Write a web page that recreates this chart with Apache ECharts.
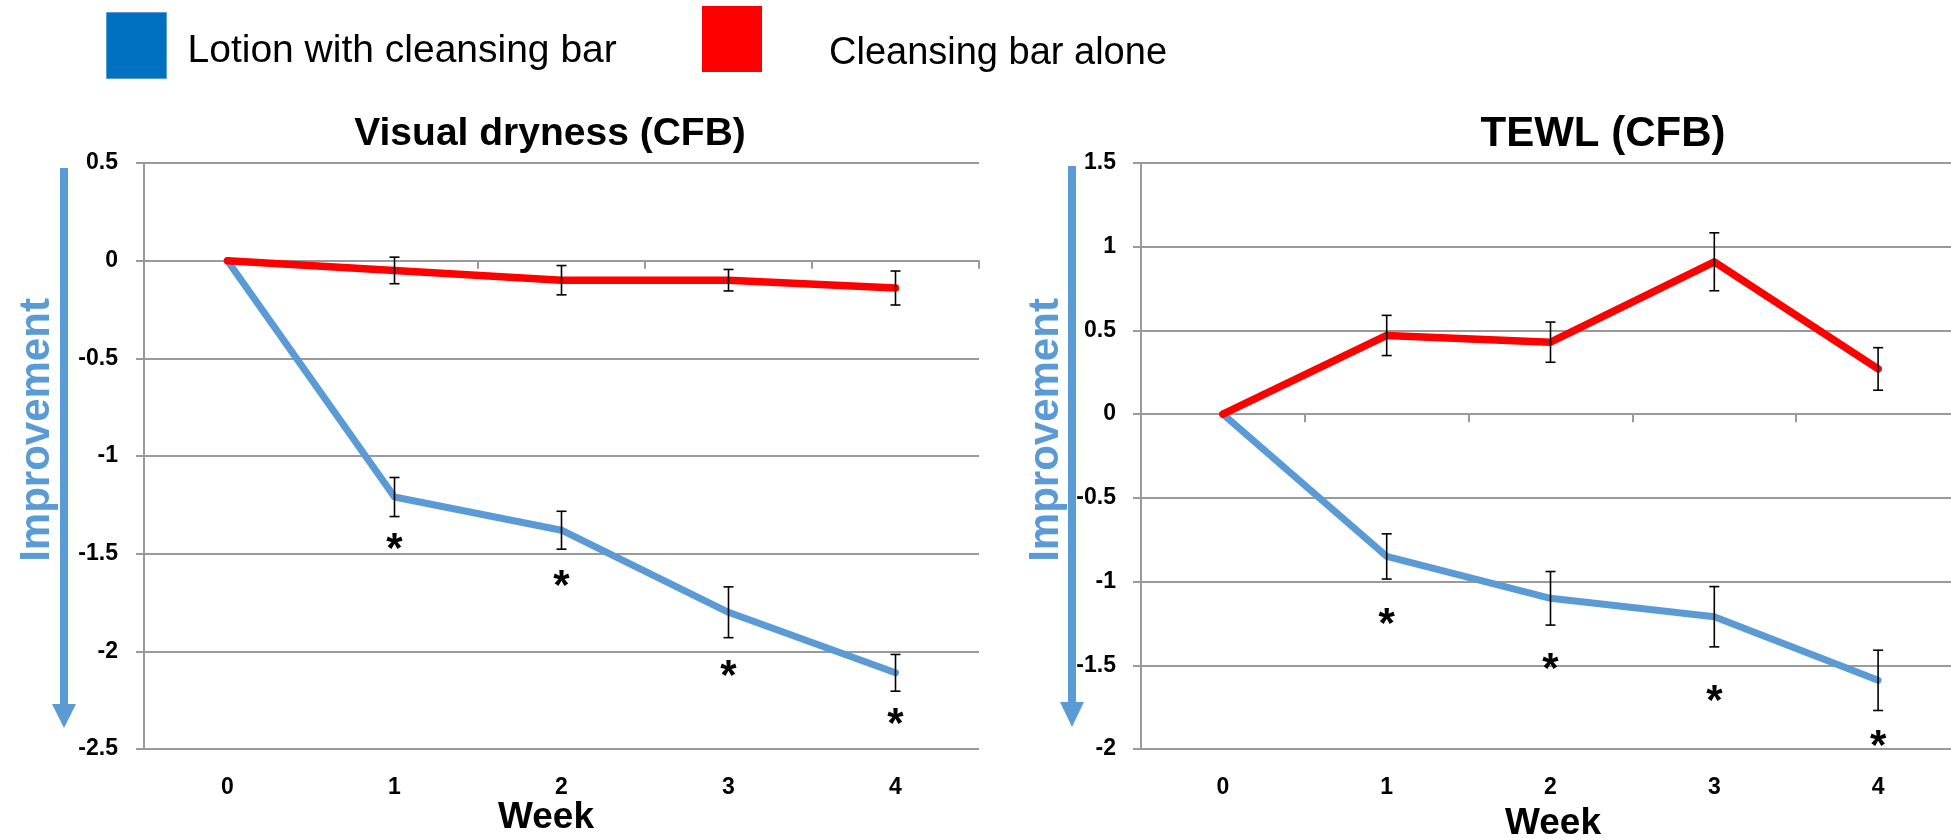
<!DOCTYPE html>
<html>
<head>
<meta charset="utf-8">
<script src="https://cdn.jsdelivr.net/npm/echarts@6/dist/echarts.min.js"></script>
<style>
  html, body { margin: 0; padding: 0; background: #fff; }
  #chart { width: 1951px; height: 838px; }
</style>
</head>
<body>
<div id="chart"></div>
<script>
// Week of study
const weeks = ['0', '1', '2', '3', '4'];

// Series names
const seriesNames = ['Lotion with cleansing bar', 'Cleansing bar alone'];

// Visual dryness, change from baseline (mean and error)
const dryLotion = [0, -1.21, -1.38, -1.80, -2.11];
const dryLotionErr = [0, 0.10, 0.097, 0.13, 0.094];
const dryBar = [0, -0.05, -0.10, -0.10, -0.14];
const dryBarErr = [0, 0.068, 0.075, 0.055, 0.087];
// Significance markers (value position of each "*")
const drySig = [null, -1.43, -1.62, -2.08, -2.33];

// TEWL, change from baseline (mean and error)
const tewlLotion = [0, -0.85, -1.10, -1.21, -1.59];
const tewlLotionErr = [0, 0.135, 0.16, 0.18, 0.18];
const tewlBar = [0, 0.47, 0.43, 0.91, 0.27];
const tewlBarErr = [0, 0.12, 0.12, 0.173, 0.127];
const tewlSig = [null, -1.20, -1.47, -1.66, -1.93];

// Axis ranges
const dryAxis = { min: -2.5, max: 0.5, interval: 0.5 };
const tewlAxis = { min: -2, max: 1.5, interval: 0.5 };

const FONT = '"Liberation Sans", Arial, sans-serif';
const BLUE = '#5B9BD5';
const RED = '#FF0000';
const GRID_GRAY = '#9a9a9a';

function errorBarSeries(xIdx, yIdx, means, errs) {
  return {
    type: 'custom',
    xAxisIndex: xIdx,
    yAxisIndex: yIdx,
    z: 6,
    silent: true,
    data: means.map((m, i) => [i, m, errs[i]]),
    encode: { x: 0, y: 1 },
    renderItem: function (params, api) {
      const err = api.value(2);
      if (!err) return null;
      const x = api.value(0), m = api.value(1);
      const top = api.coord([x, m + err]);
      const bot = api.coord([x, m - err]);
      const cap = 5;
      const style = { stroke: '#000', lineWidth: 1.6 };
      return {
        type: 'group',
        children: [
          { type: 'line', shape: { x1: top[0], y1: top[1], x2: bot[0], y2: bot[1] }, style: style },
          { type: 'line', shape: { x1: top[0] - cap, y1: top[1], x2: top[0] + cap, y2: top[1] }, style: style },
          { type: 'line', shape: { x1: bot[0] - cap, y1: bot[1], x2: bot[0] + cap, y2: bot[1] }, style: style }
        ]
      };
    }
  };
}

function starSeries(xIdx, yIdx, sig) {
  return {
    type: 'custom',
    xAxisIndex: xIdx,
    yAxisIndex: yIdx,
    z: 7,
    silent: true,
    data: sig.map((v, i) => [i, v]).filter(d => d[1] != null),
    encode: { x: 0, y: 1 },
    renderItem: function (params, api) {
      const p = api.coord([api.value(0), api.value(1)]);
      return {
        type: 'text',
        style: {
          text: '*', x: p[0], y: p[1] + 10,
          align: 'center', verticalAlign: 'middle',
          textAlign: 'center', textVerticalAlign: 'middle',
          fontSize: 42, fontWeight: 'bold', fontFamily: FONT, fill: '#000'
        }
      };
    }
  };
}

function lineSeries(name, xIdx, yIdx, data, color, width, z) {
  return {
    type: 'line', name: name, xAxisIndex: xIdx, yAxisIndex: yIdx,
    data: data, symbol: 'none', showSymbol: false, z: z, silent: true,
    lineStyle: { color: color, width: width, cap: 'round', join: 'round' },
    itemStyle: { color: color }
  };
}

function xAxesFor(gridIndex) {
  return [
    { // line at zero with tick marks between weeks
      gridIndex: gridIndex, type: 'category', data: weeks, boundaryGap: true, position: 'bottom',
      axisLine: { show: true, onZero: true, lineStyle: { color: GRID_GRAY, width: 2 } },
      axisTick: { show: true, length: 8, lineStyle: { color: GRID_GRAY, width: 2 } },
      axisLabel: { show: false }, splitLine: { show: false }
    },
    { // week labels below the plot
      gridIndex: gridIndex, type: 'category', data: weeks, boundaryGap: true, position: 'bottom',
      axisLine: { show: false, onZero: false }, axisTick: { show: false }, splitLine: { show: false },
      axisLabel: { show: true, margin: 27, fontSize: 23, fontWeight: 'bold', color: '#000', fontFamily: FONT }
    }
  ];
}

function yAxisFor(gridIndex, range, margin) {
  return {
    gridIndex: gridIndex, type: 'value', min: range.min, max: range.max, interval: range.interval,
    axisLine: { show: true, lineStyle: { color: GRID_GRAY, width: 2 } },
    axisTick: { show: true, length: 8, lineStyle: { color: GRID_GRAY, width: 2 } },
    splitLine: { show: true, lineStyle: { color: GRID_GRAY, width: 2 } },
    axisLabel: { margin: margin, fontSize: 23, fontWeight: 'bold', color: '#000', fontFamily: FONT }
  };
}

function arrow(cx, y1, y2, tip) {
  return [
    { type: 'line', shape: { x1: cx, y1: y1, x2: cx, y2: y2 }, style: { stroke: BLUE, lineWidth: 8 } },
    { type: 'polygon', shape: { points: [[cx - 12, y2 - 1], [cx + 12, y2 - 1], [cx, tip]] }, style: { fill: BLUE } }
  ];
}

function label(text, x, y, size, color, rotation) {
  return {
    type: 'text', x: x, y: y, rotation: rotation || 0,
    style: {
      text: text, align: 'center', verticalAlign: 'middle',
      fontSize: size, fontWeight: 'bold', fontFamily: FONT, fill: color || '#000'
    }
  };
}

// Legend entry whose text sits a little lower than the middle of its swatch
function legendEntry(name, swatchStyle, left, top, size, gapLeft, dropDown) {
  return {
    data: [{ name: name, itemStyle: swatchStyle }],
    left: left, top: top, icon: 'rect', itemWidth: 60, itemHeight: 66,
    selectedMode: false, padding: 0,
    formatter: n => '{t|' + n + '}',
    textStyle: {
      fontSize: size, fontFamily: FONT, color: '#000',
      rich: { t: { fontSize: size, fontFamily: FONT, color: '#000', padding: [dropDown * 2, 0, 0, gapLeft] } }
    }
  };
}

const chart = echarts.init(document.getElementById('chart'), null, { renderer: 'canvas' });

chart.setOption({
  animation: false,
  backgroundColor: '#fff',
  legend: [
    legendEntry(seriesNames[0], { color: '#0070C0', borderColor: BLUE, borderWidth: 1 }, 106, 12, 39, 16, 6),
    legendEntry(seriesNames[1], { color: RED }, 702, 6, 38, 62, 15)
  ],
  grid: [
    { left: 144, top: 163, width: 835, height: 586, containLabel: false, outerBoundsMode: 'none' },
    { left: 1141, top: 163, width: 819, height: 586, containLabel: false, outerBoundsMode: 'none' }
  ],
  xAxis: xAxesFor(0).concat(xAxesFor(1)),
  yAxis: [yAxisFor(0, dryAxis, 26), yAxisFor(1, tewlAxis, 25)],
  series: [
    lineSeries(seriesNames[0], 0, 0, dryLotion, BLUE, 7, 3),
    lineSeries(seriesNames[1], 0, 0, dryBar, RED, 7.5, 4),
    errorBarSeries(0, 0, dryLotion, dryLotionErr),
    errorBarSeries(0, 0, dryBar, dryBarErr),
    starSeries(0, 0, drySig),
    lineSeries(seriesNames[0], 2, 1, tewlLotion, BLUE, 7, 3),
    lineSeries(seriesNames[1], 2, 1, tewlBar, RED, 7.5, 4),
    errorBarSeries(2, 1, tewlLotion, tewlLotionErr),
    errorBarSeries(2, 1, tewlBar, tewlBarErr),
    starSeries(2, 1, tewlSig)
  ],
  graphic: [
    label('Visual dryness (CFB)', 550, 134, 39),
    label('TEWL (CFB)', 1603, 134, 42),
    label('Week', 546, 818, 37),
    label('Week', 1553, 824, 37),
    label('Improvement', 37, 430, 42, BLUE, Math.PI / 2),
    label('Improvement', 1046, 430, 42, BLUE, Math.PI / 2)
  ].concat(arrow(64, 168, 705, 728)).concat(arrow(1072, 166, 703, 727))
});
</script>
</body>
</html>
